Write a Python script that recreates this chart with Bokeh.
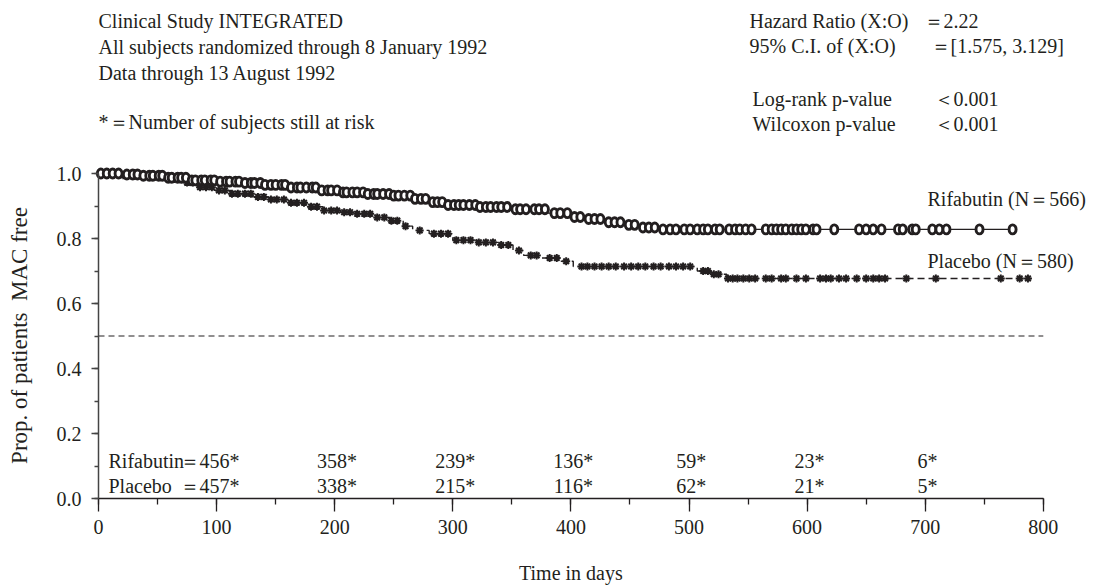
import numpy as np
from bokeh.plotting import figure
from bokeh.models import Range1d, Label, SingleIntervalTicker, NumeralTickFormatter, ColumnDataSource
from bokeh.core.properties import value
from bokeh.embed import file_html
from bokeh.resources import INLINE

# ---------------- data ----------------
rif_times = [0, 20, 35, 55, 78, 100, 120, 140, 162, 185, 205, 225, 247, 265, 280, 292,
             320, 350, 380, 400, 410, 430, 445, 459, 473]
rif_surv = [1.0, 0.997, 0.993, 0.987, 0.979, 0.975, 0.971, 0.965, 0.957, 0.948, 0.942,
            0.937, 0.932, 0.922, 0.912, 0.903, 0.897, 0.89, 0.878, 0.866, 0.86, 0.85,
            0.842, 0.834, 0.828]
rif_last_day = 774

plc_times = [0, 20, 40, 55, 70, 84, 98, 112, 130, 145, 162, 177, 190, 205, 219, 235, 247,
             258, 266, 280, 300, 320, 340, 351, 360, 375, 390, 402, 507, 518, 532]
plc_surv = [1.0, 0.995, 0.99, 0.983, 0.972, 0.958, 0.948, 0.938, 0.928, 0.92, 0.91, 0.898,
            0.886, 0.881, 0.876, 0.865, 0.855, 0.838, 0.825, 0.815, 0.795, 0.788, 0.78,
            0.763, 0.748, 0.74, 0.73, 0.714, 0.70, 0.69, 0.677]
plc_last_day = 787

rif_censor = [2, 7, 12, 17, 24, 29, 33, 38, 43, 46, 51, 54, 59, 62, 67, 70, 74, 79, 82, 87,
              90, 95, 98, 103, 108, 111, 116, 119, 124, 129, 132, 137, 141, 146, 150, 155,
              158, 163, 168, 171, 176, 181, 184, 189, 194, 197, 202, 207, 210, 215, 219,
              224, 228, 233, 236, 241, 246, 250, 254, 259, 264, 268, 273, 277, 283, 287,
              291, 296, 301, 305, 309, 314, 319, 323, 328, 332, 337, 341, 346, 353, 357,
              362, 369, 373, 378, 386, 391, 397, 403, 408, 415, 420, 425, 432, 437, 442,
              449, 454, 461, 466, 471, 478, 484, 489, 496, 501, 507,
              512, 516, 522, 526, 534, 539, 543, 548, 553, 565, 570, 574, 578, 582, 587,
              591, 595, 599, 605, 608, 623, 644, 650, 656, 663, 677, 681, 689, 692, 706,
              712, 718, 746, 774]

plc_censor = [3, 9, 15, 21, 27, 32, 37, 43, 48, 53, 59, 64, 69, 75, 80, 86, 91, 96, 102, 107,
              113, 118, 124, 129, 135, 140, 146, 151, 157, 163, 168, 174, 180, 185, 191, 197,
              202, 208, 213, 219, 225, 230, 236, 242, 248, 253, 260, 272, 284, 290, 296,
              303, 309, 315, 322, 328, 334, 341, 347, 356, 366, 371, 382, 388, 396, 409,
              414, 420, 426, 432, 438, 445, 451, 457, 463, 470, 476, 483, 489, 495, 501,
              512, 516, 521, 525,
              533, 537, 541, 546, 551, 556, 565, 570, 578, 582, 591, 599, 611, 616, 620,
              627, 633, 642, 650, 656, 661, 666, 684, 709, 764, 780, 787]

risk_days = [200, 300, 400, 500, 600, 700]
rif_first_at_risk = "＝456*"
plc_first_at_risk = "＝457*"
rif_at_risk = ["358*", "239*", "136*", "59*", "23*", "6*"]
plc_at_risk = ["338*", "215*", "116*", "62*", "21*", "5*"]

x_axis_max = 800
y_axis_max = 1.0
median_level = 0.5

header_left = ["Clinical Study INTEGRATED",
               "All subjects randomized through 8 January 1992",
               "Data through 13 August 1992",
               "*＝Number of subjects still at risk"]
stats_names = ["Hazard Ratio (X:O)", "95% C.I. of (X:O)", "Log-rank p-value", "Wilcoxon p-value"]
stats_values = ["＝2.22", "＝[1.575, 3.129]", "＜0.001", "＜0.001"]

# ---------------- layout helpers ----------------
W, H = 1102, 585
X0_PX, PX_PER_DAY = 98, 1.181
Y0_PX, PX_PER_UNIT = 498, 325.0
FONT = "Liberation Serif"
INK = "#231f20"


def dx(px):
    return (px - X0_PX) / PX_PER_DAY


def dy(py):
    return (Y0_PX - py) / PX_PER_UNIT


p = figure(width=W, height=H,
           x_range=Range1d(dx(0), dx(W)), y_range=Range1d(dy(H), dy(0)),
           output_backend="svg", toolbar_location=None,
           min_border_left=0, min_border_bottom=0,
           min_border_top=0, min_border_right=0)
p.grid.visible = False
p.outline_line_color = None
p.background_fill_color = "white"
p.border_fill_color = "white"

xa = p.xaxis[0]
xa.fixed_location = 0
xa.ticker = SingleIntervalTicker(interval=100, num_minor_ticks=2)
xa.bounds = (0, x_axis_max)
xa.axis_line_color = INK
xa.axis_line_width = 1.5
xa.major_tick_line_color = INK
xa.minor_tick_line_color = INK
xa.major_tick_line_width = 1.3
xa.minor_tick_line_width = 1.3
xa.major_tick_in = 0
xa.major_tick_out = 13
xa.minor_tick_in = 0
xa.minor_tick_out = 6
xa.major_label_standoff = 8
xa.major_label_text_font = FONT
xa.major_label_text_font_size = "20px"
xa.major_label_text_color = INK

ya = p.yaxis[0]
ya.fixed_location = 0
ya.ticker = SingleIntervalTicker(interval=0.2, num_minor_ticks=2)
ya.bounds = (0, y_axis_max)
ya.formatter = NumeralTickFormatter(format="0.0")
ya.axis_line_color = "#444444"
ya.axis_line_width = 1.5
ya.major_tick_line_color = "#444444"
ya.minor_tick_line_color = "#444444"
ya.major_tick_line_width = 1.3
ya.minor_tick_line_width = 1.3
ya.major_tick_in = 0
ya.major_tick_out = 7
ya.minor_tick_in = 0
ya.minor_tick_out = 4
ya.major_label_standoff = 10
ya.major_label_text_font = FONT
ya.major_label_text_font_size = "20px"
ya.major_label_text_color = INK

# median reference line
p.segment(x0=[0], y0=[median_level], x1=[x_axis_max], y1=[median_level],
          line_color=INK, line_width=1, line_dash="6 4")


def step_xy(times, surv, last):
    return list(times) + [last], list(surv) + [surv[-1]]


def surv_at(times, surv, days):
    idx = np.searchsorted(np.array(times), np.array(days), side="right") - 1
    return list(np.array(surv)[idx])


rx, ry = step_xy(rif_times, rif_surv, rif_last_day)
px_, py_ = step_xy(plc_times, plc_surv, plc_last_day)
p.step(rx, ry, mode="after", line_color=INK, line_width=1.4)
p.step(px_, py_, mode="after", line_color=INK, line_width=1.4, line_dash="7 4")

p.scatter(plc_censor, surv_at(plc_times, plc_surv, plc_censor), marker="asterisk",
          size=8, line_color=INK, line_width=2.0)
p.ellipse(x=rif_censor, y=surv_at(rif_times, rif_surv, rif_censor), width=7, height=9,
          width_units="screen", height_units="screen",
          fill_color="white", line_color=INK, line_width=2.9)


def add_label(px, py, text, size="20px", align="left", angle=0.0):
    p.add_layout(Label(x=dx(px), y=dy(py), text=text, text_font=FONT,
                       text_font_size=size, text_color=INK, text_align=align,
                       text_baseline="middle", angle=angle))


for txt, ypx in zip(header_left, [20, 46, 72, 121]):
    add_label(98, ypx, txt)
for name, val, ypx, xn, xv in zip(stats_names, stats_values, [20, 45, 98, 123],
                                  [749, 749, 752, 752], [923, 930, 933, 933]):
    add_label(xn, ypx, name)
    add_label(xv, ypx, val)

add_label(927, 198, "Rifabutin (N＝566)")
add_label(927, 260, "Placebo (N＝580)")

# at-risk table
add_label(108, 460, "Rifabutin")
add_label(108, 485, "Placebo")
add_label(179, 460, rif_first_at_risk)
add_label(179, 485, plc_first_at_risk)
src = ColumnDataSource(dict(x=[d + 2 for d in risk_days],
                            y1=[dy(460)] * len(risk_days), y2=[dy(485)] * len(risk_days),
                            t1=rif_at_risk, t2=plc_at_risk))
for ycol, tcol in (("y1", "t1"), ("y2", "t2")):
    p.text(x="x", y=ycol, text=tcol, source=src, text_font=value(FONT),
           text_font_size="20px", text_color=INK, text_align="center",
           text_baseline="middle")

# axis titles
add_label(X0_PX + PX_PER_DAY * x_axis_max / 2, 572, "Time in days", align="center")
add_label(19, 335, "Prop. of patients\u00a0 MAC free", size="23px", align="center",
          angle=np.pi / 2)

open("out.html", "w").write(file_html(p, INLINE))
